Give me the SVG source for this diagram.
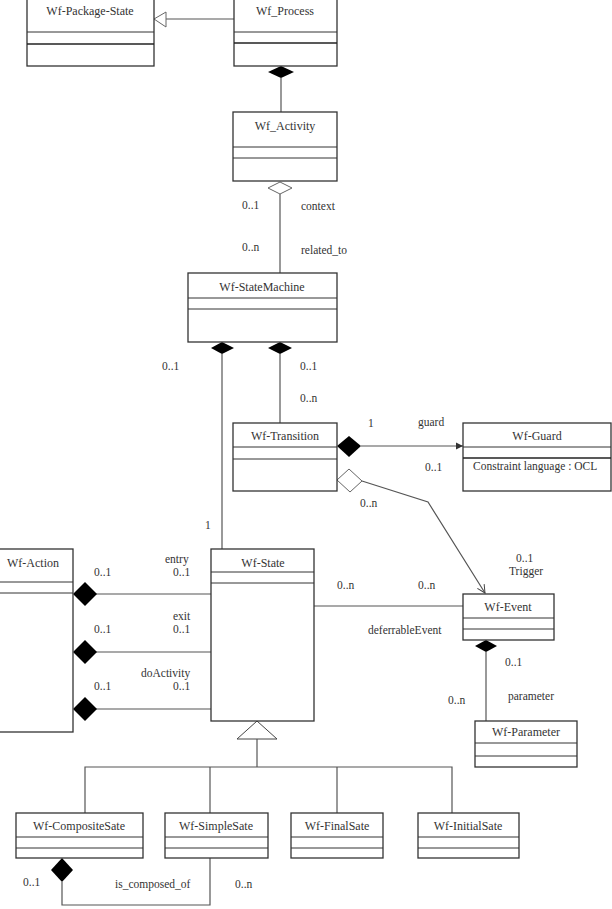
<svg xmlns="http://www.w3.org/2000/svg" width="612" height="909" viewBox="0 0 612 909">
<defs>
<style>
.box{fill:#fff;stroke:#333;stroke-width:1.3}
.sep{stroke:#333;stroke-width:1}
.sep2{stroke:#222;stroke-width:1.6}
.t{font-family:"Liberation Serif",serif;font-size:12px;font-weight:normal;fill:#333;text-anchor:middle}
.l{font-family:"Liberation Serif",serif;font-size:11.5px;font-weight:normal;fill:#333}
.c{fill:none;stroke:#555;stroke-width:1.2}
.fd{fill:#000;stroke:none}
.hd{fill:#fff;stroke:#666;stroke-width:1}
</style>
<marker id="arr" markerWidth="8" markerHeight="8" refX="7" refY="4" orient="auto" markerUnits="userSpaceOnUse">
<path d="M0,0.5 L7,4 L0,7.5 z" fill="#333"/>
</marker>
<marker id="arr2" markerWidth="10" markerHeight="10" refX="9" refY="5" orient="auto" markerUnits="userSpaceOnUse">
<path d="M1,1 L9,5 L1,9" fill="none" stroke="#444" stroke-width="1"/>
</marker>
</defs>

<g id="connectors">
<line class="c" x1="166" y1="19" x2="234" y2="19"/>
<polygon class="hd" points="154,19 166,12 166,27"/>
<line class="c" x1="281" y1="78" x2="281" y2="112"/>
<polygon class="fd" points="268,72 281,66 294,72 281,78"/>
<line class="c" x1="280" y1="194" x2="280" y2="273"/>
<polygon class="hd" points="268,188 280,182 292,188 280,194"/>
<line class="c" x1="222" y1="354" x2="222" y2="549"/>
<polygon class="fd" points="211,348 222,342 234,348 222,354"/>
<line class="c" x1="280" y1="354" x2="280" y2="423"/>
<polygon class="fd" points="268,348 280,342 292,348 280,354"/>
<line class="c" x1="361" y1="446" x2="463" y2="446" marker-end="url(#arr)"/>
<polygon class="fd" points="337,446 349,436 361,446 349,457"/>
<polyline class="c" points="362,481 428,502 485,593" marker-end="url(#arr2)"/>
<polygon class="hd" points="337,480 349,469 362,481 350,492"/>
<line class="c" x1="96" y1="594" x2="211" y2="594"/>
<polygon class="fd" points="73,594 85,582 97,594 85,606"/>
<line class="c" x1="96" y1="652" x2="211" y2="652"/>
<polygon class="fd" points="73,652 85,640 97,652 85,664"/>
<line class="c" x1="96" y1="709" x2="211" y2="709"/>
<polygon class="fd" points="73,709 85,697 97,709 85,721"/>
<line class="c" x1="314" y1="606" x2="463" y2="606"/>
<line class="c" x1="486" y1="652" x2="486" y2="721"/>
<polygon class="fd" points="475,646 486,640 497,646 486,652"/>
<polygon class="hd" points="257,721 237,739 277,739" style="stroke:#444"/>
<line class="c" x1="257" y1="739" x2="257" y2="767"/>
<polyline class="c" points="85,813 85,767 452,767 452,813"/>
<line class="c" x1="210" y1="767" x2="210" y2="813"/>
<line class="c" x1="337" y1="767" x2="337" y2="813"/>
<polyline class="c" points="62,882 62,905 210,905 210,858"/>
<polygon class="fd" points="51,870 62,858 73,870 62,882"/>
</g>

<g id="labels">
<text class="l" x="242" y="209">0..1</text>
<text class="l" x="301" y="210">context</text>
<text class="l" x="242" y="251">0..n</text>
<text class="l" x="301" y="254">related_to</text>
<text class="l" x="162" y="370">0..1</text>
<text class="l" x="300" y="370">0..1</text>
<text class="l" x="300" y="402">0..n</text>
<text class="l" x="368" y="427">1</text>
<text class="l" x="418" y="426">guard</text>
<text class="l" x="425" y="471">0..1</text>
<text class="l" x="360" y="507">0..n</text>
<text class="l" x="205" y="529">1</text>
<text class="l" x="94" y="576">0..1</text>
<text class="l" x="165" y="563">entry</text>
<text class="l" x="173" y="576">0..1</text>
<text class="l" x="94" y="633">0..1</text>
<text class="l" x="173" y="620">exit</text>
<text class="l" x="173" y="633">0..1</text>
<text class="l" x="94" y="690">0..1</text>
<text class="l" x="141" y="677">doActivity</text>
<text class="l" x="173" y="690">0..1</text>
<text class="l" x="337" y="589">0..n</text>
<text class="l" x="418" y="589">0..n</text>
<text class="l" x="368" y="634">deferrableEvent</text>
<text class="l" x="516" y="562">0..1</text>
<text class="l" x="509" y="575">Trigger</text>
<text class="l" x="505" y="666">0..1</text>
<text class="l" x="508" y="700">parameter</text>
<text class="l" x="448" y="704">0..n</text>
<text class="l" x="23" y="886">0..1</text>
<text class="l" x="115" y="888">is_composed_of</text>
<text class="l" x="235" y="888">0..n</text>
</g>

<g id="Wf-Package-State">
<rect class="box" x="27" y="-2" width="127" height="68"/>
<line class="sep" x1="27" y1="32" x2="154" y2="32"/>
<line class="sep2" x1="27" y1="44" x2="154" y2="44"/>
<text class="t" x="90" y="15">Wf-Package-State</text>
</g>
<g id="Wf_Process">
<rect class="box" x="234" y="-2" width="103" height="68"/>
<line class="sep" x1="234" y1="32" x2="337" y2="32"/>
<line class="sep2" x1="234" y1="43" x2="337" y2="43"/>
<text class="t" x="285" y="15">Wf_Process</text>
</g>
<g id="Wf_Activity">
<rect class="box" x="233" y="112" width="104" height="69"/>
<line class="sep" x1="233" y1="147" x2="337" y2="147"/>
<line class="sep" x1="233" y1="158" x2="337" y2="158"/>
<text class="t" x="285" y="130">Wf_Activity</text>
</g>
<g id="Wf-StateMachine">
<rect class="box" x="188" y="273" width="149" height="69"/>
<line class="sep" x1="188" y1="298" x2="337" y2="298"/>
<line class="sep" x1="188" y1="309" x2="337" y2="309"/>
<text class="t" x="262" y="291">Wf-StateMachine</text>
</g>
<g id="Wf-Transition">
<rect class="box" x="233" y="423" width="104" height="68"/>
<line class="sep" x1="233" y1="447" x2="337" y2="447"/>
<line class="sep" x1="233" y1="459" x2="337" y2="459"/>
<text class="t" x="285" y="440">Wf-Transition</text>
</g>
<g id="Wf-Guard">
<rect class="box" x="463" y="423" width="148" height="68"/>
<line class="sep" x1="463" y1="447" x2="611" y2="447"/>
<line class="sep2" x1="463" y1="458" x2="611" y2="458"/>
<text class="t" x="537" y="440">Wf-Guard</text>
<text class="l" x="473" y="470">Constraint language : OCL</text>
</g>
<g id="Wf-Action">
<rect class="box" x="-2" y="549" width="75" height="183"/>
<line class="sep" x1="-2" y1="582" x2="73" y2="582"/>
<line class="sep" x1="-2" y1="593" x2="73" y2="593"/>
<text class="t" x="33" y="567">Wf-Action</text>
</g>
<g id="Wf-State">
<rect class="box" x="211" y="549" width="103" height="172"/>
<line class="sep" x1="211" y1="572" x2="314" y2="572"/>
<line class="sep" x1="211" y1="583" x2="314" y2="583"/>
<text class="t" x="263" y="567">Wf-State</text>
</g>
<g id="Wf-Event">
<rect class="box" x="463" y="594" width="91" height="46"/>
<line class="sep" x1="463" y1="618" x2="554" y2="618"/>
<line class="sep" x1="463" y1="629" x2="554" y2="629"/>
<text class="t" x="508" y="611">Wf-Event</text>
</g>
<g id="Wf-Parameter">
<rect class="box" x="475" y="721" width="102" height="46"/>
<line class="sep" x1="475" y1="743" x2="577" y2="743"/>
<line class="sep" x1="475" y1="756" x2="577" y2="756"/>
<text class="t" x="526" y="736">Wf-Parameter</text>
</g>
<g id="Wf-CompositeSate">
<rect class="box" x="16" y="813" width="127" height="45"/>
<line class="sep" x1="16" y1="837" x2="143" y2="837"/>
<line class="sep" x1="16" y1="848" x2="143" y2="848"/>
<text class="t" x="79" y="830">Wf-CompositeSate</text>
</g>
<g id="Wf-SimpleSate">
<rect class="box" x="165" y="813" width="103" height="45"/>
<line class="sep" x1="165" y1="837" x2="268" y2="837"/>
<line class="sep" x1="165" y1="848" x2="268" y2="848"/>
<text class="t" x="216" y="830">Wf-SimpleSate</text>
</g>
<g id="Wf-FinalSate">
<rect class="box" x="291" y="813" width="92" height="45"/>
<line class="sep" x1="291" y1="837" x2="383" y2="837"/>
<line class="sep" x1="291" y1="848" x2="383" y2="848"/>
<text class="t" x="337" y="830">Wf-FinalSate</text>
</g>
<g id="Wf-InitialSate">
<rect class="box" x="418" y="813" width="101" height="45"/>
<line class="sep" x1="418" y1="837" x2="519" y2="837"/>
<line class="sep" x1="418" y1="848" x2="519" y2="848"/>
<text class="t" x="468" y="830">Wf-InitialSate</text>
</g>
</svg>
